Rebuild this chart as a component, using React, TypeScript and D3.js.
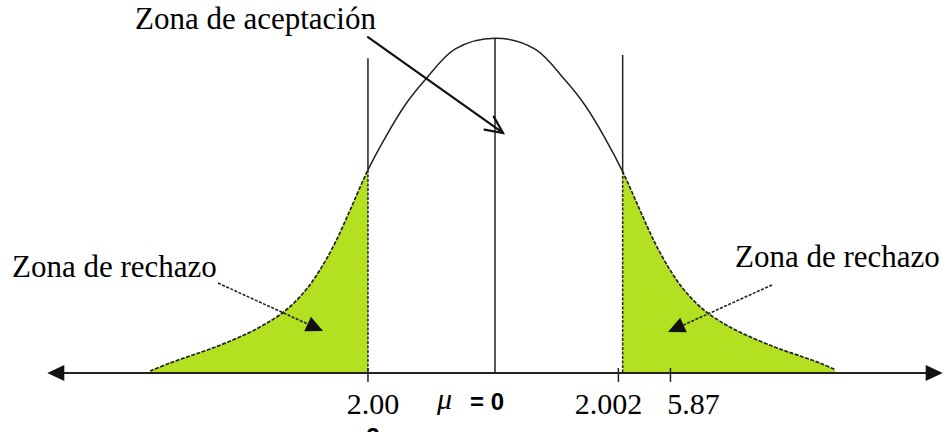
import React from "react";
import * as d3 from "d3";

// bell curve: position in sigma units, height as density
const curveZ = [-2.851, -2.686, -2.521, -2.355, -2.149, -1.942, -1.736, -1.57, -1.446, -1.322, -1.198, -1.05, -0.909, -0.744, -0.579, -0.331, 0,
  0.331, 0.579, 0.744, 0.909, 1.055, 1.198, 1.322, 1.446, 1.57, 1.736, 1.942, 2.149, 2.355, 2.521, 2.686, 2.81];
const curveDensity = [0.0024, 0.0119, 0.0203, 0.0286, 0.0405, 0.0548, 0.0739, 0.0977, 0.123, 0.155, 0.194, 0.242, 0.28, 0.319, 0.349, 0.386, 0.399,
  0.386, 0.349, 0.319, 0.28, 0.24, 0.194, 0.155, 0.123, 0.0977, 0.0739, 0.0548, 0.0405, 0.0286, 0.0203, 0.0119, 0.004];

// critical values (left, right) and the height where their lines start
const criticalZ = [-1.05, 1.055];
const criticalTop = [0.375, 0.379];

// tick marks under the axis and their labels
const tickZ = [-1.05, 1.02, 1.45];
const tickLabels = ["2.00", "2.002", "5.87"];

// annotation arrows: [zStart, dStart, zEnd, dEnd]
const rejectArrows = [
  [-2.289, 0.1072, -1.421, 0.05],
  [2.289, 0.1049, 1.43, 0.0489],
];
const acceptArrow = [-1.05, 0.4003, 0.066, 0.286];

const W = 952;
const H = 432;
const GREEN = "#b3e020";
const INK = "#222";
const serif = "'Liberation Serif', 'Times New Roman', serif";
const sans = "'Liberation Sans', Arial, sans-serif";

const x = d3.scaleLinear().domain([-3.7, 3.7]).range([47.3, 942.7]);
const y = d3.scaleLinear().domain([0, 0.4]).range([373, 37.3]);

function head(x1: number, y1: number, x2: number, y2: number, len: number, half: number) {
  const dx = x2 - x1, dy = y2 - y1;
  const l = Math.hypot(dx, dy);
  const ux = dx / l, uy = dy / l;
  const bx = x2 - ux * len, by = y2 - uy * len;
  return {
    base: [bx, by],
    a: [bx - uy * half, by + ux * half],
    b: [bx + uy * half, by - ux * half],
  };
}

export default function App() {
  const pts: [number, number][] = curveZ.map((z, i) => [z, curveDensity[i]]);
  const line = d3.line<[number, number]>()
    .x((d) => x(d[0]))
    .y((d) => y(d[1]))
    .curve(d3.curveCatmullRom);
  const area = d3.area<[number, number]>()
    .x((d) => x(d[0]))
    .y0(y(0))
    .y1((d) => y(d[1]))
    .curve(d3.curveCatmullRom);

  const xl = x(criticalZ[0]);
  const xr = x(criticalZ[1]);
  const curveAt = (z: number) => curveDensity[curveZ.indexOf(z)];
  const axisY = y(0);
  const [xmin, xmax] = x.range();

  const leftHead = { tip: [xmin, axisY], dir: -1 };
  const rightHead = { tip: [xmax, axisY], dir: 1 };

  return (
    <svg width={W} height={H} style={{ position: "absolute", left: 0, top: 0, background: "#fff" }}>
      <defs>
        <clipPath id="tails">
          <rect x={0} y={0} width={xl} height={H} />
          <rect x={xr} y={0} width={W - xr} height={H} />
        </clipPath>
        <clipPath id="middle">
          <rect x={xl} y={0} width={xr - xl} height={H} />
        </clipPath>
      </defs>

      {/* rejection areas */}
      <path d={area(pts) || ""} fill={GREEN} clipPath="url(#tails)" />

      {/* curve: solid in the middle, dotted over the tails */}
      <path d={line(pts) || ""} fill="none" stroke={INK} strokeWidth={1.5} clipPath="url(#middle)" />
      <path d={line(pts) || ""} fill="none" stroke={INK} strokeWidth={1.7} strokeDasharray="4,1.5" clipPath="url(#tails)" />

      {/* critical lines */}
      {criticalZ.map((z, i) => (
        <g key={z}>
          <line x1={x(z)} x2={x(z)} y1={y(criticalTop[i])} y2={y(curveAt(z))} stroke={INK} strokeWidth={1.5} />
          <line x1={x(z)} x2={x(z)} y1={y(curveAt(z))} y2={axisY} stroke={INK} strokeWidth={1.5} strokeDasharray="3,1.5" />
        </g>
      ))}
      {/* mean */}
      <line x1={x(0)} x2={x(0)} y1={y(curveAt(0))} y2={axisY} stroke={INK} strokeWidth={1.5} />

      {/* axis */}
      <line x1={xmin + 10} x2={xmax - 10} y1={axisY} y2={axisY} stroke={INK} strokeWidth={2} />
      {[leftHead, rightHead].map((h, i) => (
        <polygon
          key={i}
          points={`${h.tip[0]},${h.tip[1]} ${h.tip[0] - h.dir * 17},${h.tip[1] - 8} ${h.tip[0] - h.dir * 17},${h.tip[1] + 8}`}
          fill="#111"
        />
      ))}
      {tickZ.map((z) => (
        <line key={z} x1={x(z)} x2={x(z)} y1={axisY - 5} y2={axisY + 9} stroke={INK} strokeWidth={1.5} />
      ))}
      {tickLabels.map((t, i) => (
        <text key={t} x={x(tickZ[i]) + [5, -10, 23][i]} y={414} textAnchor="middle" fontFamily={serif} fontSize={30}>
          {t}
        </text>
      ))}
      <text x={437} y={409} fontFamily={serif} fontStyle="italic" fontSize={30}>μ</text>
      <text x={470} y={410} fontFamily={sans} fontWeight="bold" fontSize={24}>= 0</text>
      <text x={x(tickZ[0]) + 5} y={445} textAnchor="middle" fontFamily={sans} fontWeight="bold" fontSize={24}>2</text>

      {/* labels */}
      <text x={135} y={29} fontFamily={serif} fontSize={31}>Zona de aceptación</text>
      <text x={12} y={277} fontFamily={serif} fontSize={31}>Zona de rechazo</text>
      <text x={735} y={267} fontFamily={serif} fontSize={31}>Zona de rechazo</text>

      {/* arrows pointing at the rejection areas */}
      {rejectArrows.map((a, i) => {
        const x1 = x(a[0]), y1 = y(a[1]), x2 = x(a[2]), y2 = y(a[3]);
        const h = head(x1, y1, x2, y2, 17, 8);
        return (
          <g key={i}>
            <line x1={x1} y1={y1} x2={h.base[0]} y2={h.base[1]} stroke={INK} strokeWidth={1.6} strokeDasharray="3,1.5" />
            <polygon points={`${x2},${y2} ${h.a[0]},${h.a[1]} ${h.b[0]},${h.b[1]}`} fill="#111" />
          </g>
        );
      })}

      {/* arrow pointing at the acceptance area */}
      {(() => {
        const x1 = x(acceptArrow[0]), y1 = y(acceptArrow[1]), x2 = x(acceptArrow[2]), y2 = y(acceptArrow[3]);
        const h = head(x1, y1, x2, y2, 17, 8);
        return (
          <g stroke="#111" strokeWidth={2.2} fill="none" strokeLinecap="round">
            <line x1={x1} y1={y1} x2={x2} y2={y2} />
            <polyline points={`${h.a[0]},${h.a[1]} ${x2},${y2} ${h.b[0]},${h.b[1]}`} />
          </g>
        );
      })()}
    </svg>
  );
}
